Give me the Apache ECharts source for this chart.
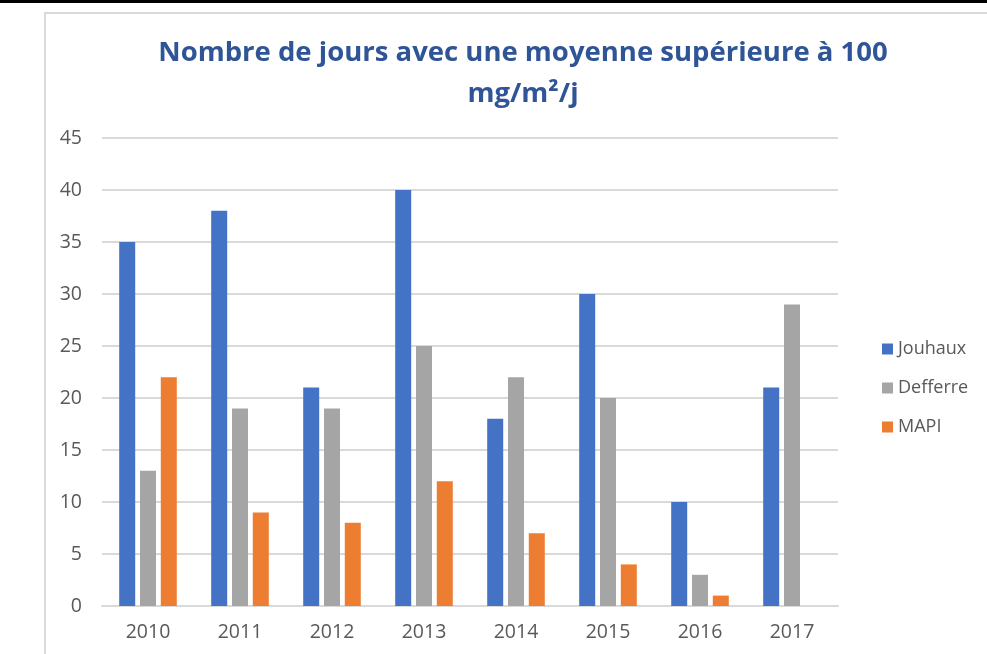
<!DOCTYPE html>
<html>
<head>
<meta charset="utf-8">
<script src="https://cdn.jsdelivr.net/npm/echarts@6/dist/echarts.min.js"></script>
<style>
html,body{margin:0;padding:0;background:#fff;}
#c{width:987px;height:654px;}
</style>
</head>
<body>
<div id="c"></div>
<script>
const categories = ['2010','2011','2012','2013','2014','2015','2016','2017'];
const jouhaux = [35, 38, 21, 40, 18, 30, 10, 21];
const defferre = [13, 19, 19, 25, 22, 20, 3, 29];
const mapi = [22, 9, 8, 12, 7, 4, 1, null];
const seriesNames = ['Jouhaux', 'Defferre', 'MAPI'];
const yTicks = { min: 0, max: 45, interval: 5 };

const chart = echarts.init(document.getElementById('c'), null, {renderer: 'canvas'});
const fontFam = '"Open Sans", "Noto Sans", sans-serif';
const colors = ['#4472C4', '#A5A5A5', '#ED7D31'];
const values = [jouhaux, defferre, mapi];

chart.setOption({
  animation: false,
  backgroundColor: '#fff',
  graphic: [
    { type: 'rect', shape: { x: 0, y: 0, width: 987, height: 3 }, style: { fill: '#000' }, silent: true },
    { type: 'rect', shape: { x: 45, y: 13, width: 1000, height: 700 }, style: { fill: 'none', stroke: '#d9d9d9', lineWidth: 2 }, silent: true }
  ],
  title: {
    text: 'Nombre de jours avec une moyenne supérieure à 100\nmg/m²/j',
    left: 518,
    top: 28,
    textAlign: 'center',
    textStyle: { color: '#2F5597', fontSize: 27.5, fontWeight: 'bold', fontFamily: fontFam, lineHeight: 41 }
  },
  legend: {
    orient: 'vertical',
    left: 877,
    top: 335,
    itemWidth: 11,
    itemHeight: 11,
    itemGap: 21,
    icon: 'rect',
    textStyle: { color: '#595959', fontSize: 18, fontFamily: fontFam },
    data: seriesNames
  },
  grid: { left: 102, right: 149, top: 138, bottom: 48, containLabel: false },
  xAxis: {
    type: 'category',
    data: categories,
    axisLine: { show: true, lineStyle: { color: '#d9d9d9', width: 2 } },
    axisTick: { show: false },
    axisLabel: { color: '#595959', fontSize: 19.5, fontFamily: fontFam, margin: 16 }
  },
  yAxis: {
    type: 'value',
    min: yTicks.min, max: yTicks.max, interval: yTicks.interval,
    axisLine: { show: false },
    axisTick: { show: false },
    splitLine: { lineStyle: { color: '#d9d9d9', width: 2 } },
    axisLabel: { color: '#595959', fontSize: 19.5, fontFamily: fontFam, margin: 20 }
  },
  series: seriesNames.map((n, i) => ({
    name: n,
    type: 'bar',
    data: values[i],
    barWidth: 16,
    barGap: '30%',
    itemStyle: { color: colors[i] }
  }))
});
</script>
</body>
</html>
